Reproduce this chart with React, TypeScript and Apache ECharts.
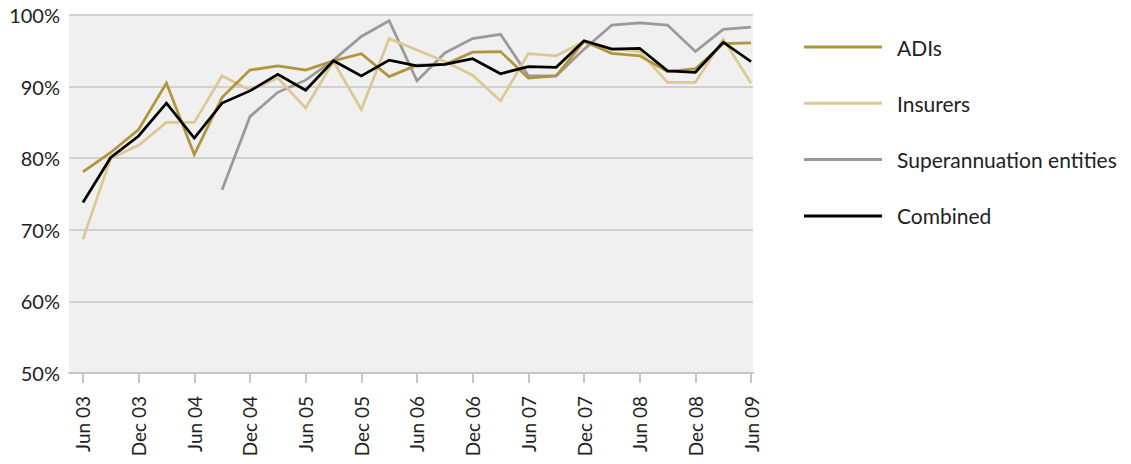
import React, { useEffect, useRef } from "react";
import * as echarts from "echarts";

const quarters = [
  "Jun 03", "Sep 03", "Dec 03", "Mar 04", "Jun 04", "Sep 04", "Dec 04", "Mar 05", "Jun 05",
  "Sep 05", "Dec 05", "Mar 06", "Jun 06", "Sep 06", "Dec 06", "Mar 07", "Jun 07", "Sep 07",
  "Dec 07", "Mar 08", "Jun 08", "Sep 08", "Dec 08", "Mar 09", "Jun 09",
];
const tickIndices = [0, 2, 4, 6, 8, 10, 12, 14, 16, 18, 20, 22, 24];

const adis = [
  78.1, 80.8, 84.0, 90.5, 80.5, 88.5, 92.3, 92.9, 92.3, 93.6, 94.6, 91.4, 93.0,
  93.1, 94.8, 94.9, 91.2, 91.5, 96.3, 94.65, 94.3, 92.1, 92.5, 96.0, 96.1,
];
const insurers = [
  68.7, 80.0, 81.8, 85.0, 85.0, 91.5, 89.5, 91.2, 87.0, 93.5, 86.8, 96.7, 95.1,
  93.5, 91.6, 88.0, 94.6, 94.3, 96.3, 95.3, 94.9, 90.6, 90.6, 96.6, 90.5,
];
const superannuation = [
  null, null, null, null, null, 75.6, 85.8, 89.2, 90.9, 93.7, 97.0, 99.2, 90.8,
  94.7, 96.7, 97.3, 91.5, 91.5, 95.2, 98.6, 98.9, 98.6, 94.9, 98.0, 98.3,
];
const combined = [
  73.8, 80.1, 83.1, 87.7, 82.8, 87.7, 89.4, 91.7, 89.5, 93.6, 91.5, 93.7, 92.9,
  93.1, 93.9, 91.8, 92.8, 92.7, 96.4, 95.25, 95.35, 92.2, 92.0, 96.2, 93.5,
];
const yTicks = [50, 60, 70, 80, 90, 100];

const FONT = "Lato";

function toPairs(arr: (number | null)[]) {
  return arr
    .map((v, i) => (v === null ? null : [i, v]))
    .filter((p) => p !== null) as number[][];
}

export default function App() {
  const ref = useRef<HTMLDivElement>(null);
  useEffect(() => {
    if (!ref.current) return;
    const chart = echarts.init(ref.current, undefined, { renderer: "svg" });
    const mk = (name: string, data: (number | null)[], color: string, z: number) => ({
      name,
      type: "line",
      data: toPairs(data),
      showSymbol: false,
      symbol: "none",
      z,
      lineStyle: { color, width: 2.75, join: "miter" },
      itemStyle: { color },
    });
    chart.setOption({
      animation: false,
      textStyle: { fontFamily: FONT },
      grid: {
        left: 69,
        top: 15,
        width: 684,
        height: 358,
        show: true,
        backgroundColor: "#f0f0f0",
        borderWidth: 0,
      },
      legend: {
        orient: "vertical",
        left: 804,
        top: 36,
        padding: 0,
        icon: "rect",
        itemWidth: 78,
        itemHeight: 3,
        itemGap: 34.3,
        textStyle: {
          fontFamily: FONT,
          fontSize: 21,
          lineHeight: 22,
          color: "#222",
          padding: [0, 0, 0, 10],
        },
        data: ["ADIs", "Insurers", "Superannuation entities", "Combined"],
      },
      xAxis: {
        type: "value",
        min: -0.5,
        max: 24.07,
        axisLine: { show: true, lineStyle: { color: "#c6c6c6", width: 2 } },
        axisTick: {
          show: true,
          customValues: tickIndices,
          length: 10,
          lineStyle: { color: "#c6c6c6", width: 2 },
        },
        axisLabel: {
          customValues: tickIndices,
          rotate: 90,
          margin: 23,
          fontFamily: FONT,
          fontSize: 19,
          color: "#222",
          formatter: (v: number) => quarters[Math.round(v)] ?? "",
        },
        splitLine: { show: false },
      },
      yAxis: {
        type: "value",
        min: 50,
        max: 100,
        interval: 10,
        axisLine: { show: false },
        axisTick: { show: false },
        axisLabel: {
          margin: 9,
          fontFamily: FONT,
          fontSize: 20,
          color: "#222",
          formatter: (v: number) => (yTicks.includes(v) ? `${v}%` : ""),
        },
        splitLine: { show: true, lineStyle: { color: "#c6c6c6", width: 1.5 } },
      },
      series: [
        mk("Superannuation entities", superannuation, "#9a9a9c", 2),
        mk("Insurers", insurers, "#dcc893", 3),
        mk("ADIs", adis, "#b0953c", 4),
        mk("Combined", combined, "#000000", 5),
      ],
    });
    return () => chart.dispose();
  }, []);
  return <div ref={ref} style={{ width: 1131, height: 464, margin: -8 }} />;
}
